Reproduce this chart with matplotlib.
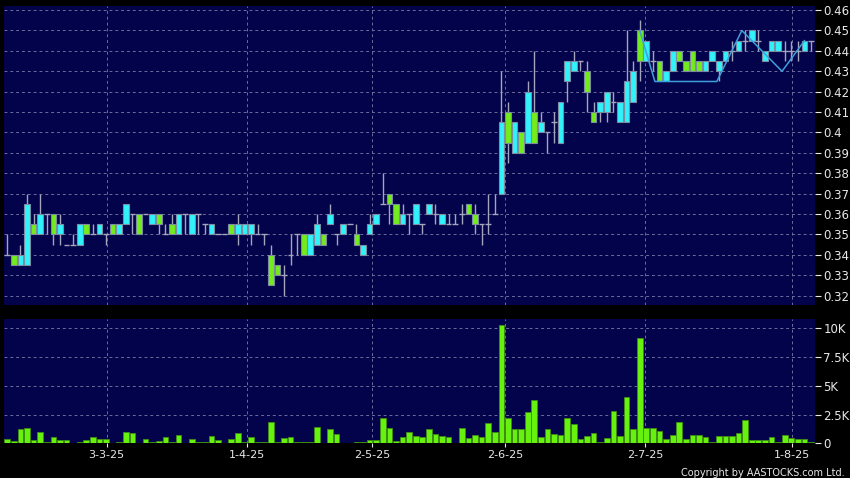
import matplotlib
matplotlib.use("Agg")
import matplotlib.pyplot as plt
from matplotlib.ticker import FuncFormatter

# daily candles, 10-Feb-25 .. 7-Aug-25
opens = [
    0.34, 0.34, 0.335, 0.335, 0.355, 0.35, 0.36, 0.36, 0.35, 0.345,
    0.345, 0.345, 0.355, 0.35, 0.35, 0.35, 0.355, 0.35, 0.355, 0.36,
    0.36, 0.36, 0.355, 0.36, 0.35, 0.355, 0.35, 0.36, 0.35, 0.36,
    0.355, 0.35, 0.35, 0.35, 0.355, 0.35, 0.35, 0.35, 0.35, 0.35,
    0.34, 0.335, 0.33, 0.34, 0.35, 0.35, 0.34, 0.345, 0.35, 0.355,
    0.35, 0.35, 0.355, 0.35, 0.34, 0.35, 0.355, 0.365, 0.37, 0.365,
    0.355, 0.36, 0.355, 0.355, 0.36, 0.36, 0.355, 0.355, 0.355, 0.36,
    0.365, 0.36, 0.355, 0.355, 0.36, 0.37, 0.41, 0.39, 0.40, 0.395,
    0.41, 0.40, 0.40, 0.405, 0.395, 0.425, 0.43, 0.435, 0.43, 0.41,
    0.41, 0.41, 0.415, 0.405, 0.405, 0.415, 0.45, 0.435, 0.435, 0.435,
    0.425, 0.43, 0.44, 0.435, 0.44, 0.435, 0.43, 0.435, 0.43, 0.435,
    0.44, 0.44, 0.445, 0.445, 0.445, 0.435, 0.44, 0.44, 0.44, 0.44,
    0.44, 0.44, 0.445,
]
highs = [
    0.35, 0.34, 0.345, 0.37, 0.36, 0.37, 0.36, 0.36, 0.36, 0.345,
    0.35, 0.355, 0.355, 0.355, 0.355, 0.35, 0.355, 0.355, 0.365, 0.36,
    0.36, 0.36, 0.36, 0.36, 0.355, 0.36, 0.36, 0.36, 0.36, 0.36,
    0.355, 0.355, 0.35, 0.35, 0.355, 0.36, 0.355, 0.355, 0.355, 0.35,
    0.345, 0.335, 0.335, 0.35, 0.35, 0.35, 0.35, 0.36, 0.35, 0.365,
    0.35, 0.355, 0.355, 0.355, 0.345, 0.36, 0.36, 0.38, 0.37, 0.365,
    0.365, 0.36, 0.365, 0.355, 0.365, 0.365, 0.36, 0.36, 0.36, 0.365,
    0.365, 0.365, 0.355, 0.37, 0.37, 0.43, 0.415, 0.405, 0.40, 0.425,
    0.44, 0.41, 0.40, 0.41, 0.415, 0.435, 0.44, 0.435, 0.435, 0.415,
    0.415, 0.42, 0.42, 0.415, 0.45, 0.435, 0.455, 0.445, 0.44, 0.435,
    0.43, 0.44, 0.44, 0.435, 0.44, 0.435, 0.435, 0.44, 0.435, 0.44,
    0.445, 0.445, 0.45, 0.45, 0.45, 0.44, 0.445, 0.445, 0.445, 0.445,
    0.445, 0.445, 0.445,
]
lows = [
    0.34, 0.335, 0.335, 0.335, 0.35, 0.35, 0.35, 0.345, 0.345, 0.345,
    0.345, 0.345, 0.35, 0.35, 0.35, 0.345, 0.35, 0.35, 0.355, 0.35,
    0.35, 0.36, 0.355, 0.35, 0.35, 0.35, 0.35, 0.35, 0.35, 0.35,
    0.35, 0.35, 0.35, 0.35, 0.35, 0.345, 0.35, 0.345, 0.35, 0.345,
    0.325, 0.33, 0.32, 0.335, 0.34, 0.34, 0.34, 0.345, 0.345, 0.355,
    0.345, 0.35, 0.355, 0.345, 0.34, 0.35, 0.355, 0.365, 0.355, 0.355,
    0.355, 0.35, 0.355, 0.35, 0.36, 0.355, 0.355, 0.355, 0.355, 0.355,
    0.36, 0.35, 0.345, 0.35, 0.36, 0.37, 0.385, 0.39, 0.39, 0.395,
    0.395, 0.40, 0.39, 0.395, 0.395, 0.415, 0.43, 0.43, 0.41, 0.405,
    0.405, 0.405, 0.41, 0.405, 0.405, 0.415, 0.425, 0.435, 0.43, 0.425,
    0.425, 0.43, 0.435, 0.43, 0.43, 0.43, 0.43, 0.435, 0.425, 0.435,
    0.435, 0.44, 0.44, 0.445, 0.44, 0.435, 0.44, 0.44, 0.435, 0.435,
    0.435, 0.44, 0.44,
]
closes = [
    0.34, 0.335, 0.34, 0.365, 0.35, 0.36, 0.36, 0.35, 0.355, 0.345,
    0.345, 0.355, 0.35, 0.35, 0.355, 0.35, 0.35, 0.355, 0.365, 0.36,
    0.35, 0.36, 0.36, 0.355, 0.35, 0.35, 0.36, 0.36, 0.36, 0.36,
    0.355, 0.355, 0.35, 0.35, 0.35, 0.355, 0.355, 0.355, 0.35, 0.35,
    0.325, 0.33, 0.33, 0.34, 0.35, 0.34, 0.35, 0.355, 0.345, 0.36,
    0.35, 0.355, 0.355, 0.345, 0.345, 0.355, 0.36, 0.365, 0.365, 0.355,
    0.36, 0.36, 0.365, 0.355, 0.365, 0.36, 0.36, 0.355, 0.355, 0.36,
    0.36, 0.355, 0.355, 0.355, 0.36, 0.405, 0.395, 0.405, 0.39, 0.42,
    0.395, 0.405, 0.40, 0.405, 0.415, 0.435, 0.435, 0.435, 0.42, 0.405,
    0.415, 0.42, 0.415, 0.415, 0.425, 0.43, 0.435, 0.445, 0.435, 0.425,
    0.43, 0.44, 0.435, 0.43, 0.43, 0.43, 0.435, 0.44, 0.435, 0.44,
    0.44, 0.445, 0.445, 0.45, 0.445, 0.44, 0.445, 0.445, 0.44, 0.44,
    0.44, 0.445, 0.445,
]
# volume in thousands of shares
volumes = [
    0.43, 0.2, 1.25, 1.36, 0.29, 0.96, 0.15, 0.6, 0.29, 0.29,
    0.05, 0.1, 0.29, 0.58, 0.35, 0.35, 0.03, 0.1, 0.96, 0.87,
    0.05, 0.35, 0.12, 0.23, 0.52, 0.17, 0.7, 0.05, 0.38, 0.12,
    0.17, 0.64, 0.29, 0.03, 0.41, 0.87, 0.12, 0.58, 0.12, 0.12,
    1.83, 0.12, 0.46, 0.6, 0.12, 0.09, 0.09, 1.39, 0.03, 1.22,
    0.84, 0.06, 0.03, 0.15, 0.17, 0.26, 0.29, 2.17, 1.33, 0.2,
    0.55, 0.99, 0.64, 0.58, 1.25, 0.81, 0.64, 0.52, 0.06, 1.33,
    0.49, 0.78, 0.55, 1.77, 0.96, 10.26, 2.17, 1.22, 1.3, 2.72,
    3.77, 0.52, 1.22, 0.84, 0.7, 2.23, 1.65, 0.43, 0.67, 0.93,
    0.12, 0.49, 2.78, 0.67, 4.0, 1.28, 9.13, 1.36, 1.36, 1.1,
    0.43, 0.72, 1.83, 0.43, 0.78, 0.78, 0.55, 0.12, 0.64, 0.64,
    0.64, 0.87, 2.0, 0.29, 0.29, 0.29, 0.55, 0.17, 0.7, 0.46,
    0.38, 0.35, 0.17,
]

# swing line drawn over the last part of the price panel
swing_x = [96, 98.3, 107.7, 111.5, 117.6, 121]
swing_y = [0.45, 0.425, 0.425, 0.45, 0.43, 0.445]

date_pos = [15.1, 36.35, 55.4, 75.55, 96.8, 119.1]
date_labels = ["3-3-25", "1-4-25", "2-5-25", "2-6-25", "2-7-25", "1-8-25"]

price_ticks = [0.32, 0.33, 0.34, 0.35, 0.36, 0.37, 0.38, 0.39, 0.40,
               0.41, 0.42, 0.43, 0.44, 0.45, 0.46]
vol_ticks = [0, 2.5, 5, 7.5, 10]
vol_labels = ["0", "2.5K", "5K", "7.5K", "10K"]

bg = "#03034b"
grid_c = "#6c6c9c"
wick_c = "#a4a4bc"
up_c = "#2ff2fa"
down_c = "#72ec1a"
text_c = "#e8e8e8"

fig = plt.figure(figsize=(8.5, 4.78), dpi=100, facecolor="black")
ax = fig.add_axes([0.0047, 0.3619, 0.9541, 0.6255])
axv = fig.add_axes([0.0047, 0.0722, 0.9541, 0.2605])

n = len(closes)
xs = list(range(n))
w = 0.86

for a in (ax, axv):
    a.set_facecolor(bg)
    for s in a.spines.values():
        s.set_visible(False)
    a.set_xlim(-0.49, 122.6)
    for p in date_pos:
        a.axvline(p, color=grid_c, lw=0.7, ls=(0, (3, 3)), zorder=1)
    a.yaxis.tick_right()
    a.tick_params(axis="y", colors=text_c, labelsize=8.5, length=4,
                  width=0.8, pad=2)

# price panel
for v in price_ticks:
    ax.axhline(v, color=grid_c, lw=0.7, ls=(0, (3, 3)), zorder=1)

ax.vlines(xs, lows, highs, color=wick_c, lw=1, zorder=2)
for i in xs:
    o, c = opens[i], closes[i]
    if abs(c - o) < 1e-9:
        ax.hlines(o, i - w / 2, i + w / 2, color=wick_c, lw=1, zorder=3)
    else:
        ax.bar(i, abs(c - o), bottom=min(o, c), width=w,
               color=up_c if c > o else down_c,
               edgecolor="#7d8ca0", lw=0.8, zorder=3)

ax.plot(swing_x, swing_y, color="#3e9fdc", lw=1.1, zorder=4)

ax.set_ylim(0.3154, 0.4620)
ax.set_yticks(price_ticks)
ax.yaxis.set_major_formatter(FuncFormatter(lambda v, p: "%g" % round(v, 2)))
ax.set_xticks([])

# volume panel
for v in vol_ticks[1:]:
    axv.axhline(v, color=grid_c, lw=0.7, ls=(0, (3, 3)), zorder=1)
axv.bar(xs, volumes, width=w, color="#66f20e", edgecolor="#3f8f12",
        lw=0.6, zorder=3)
axv.set_ylim(0, 10.81)
axv.set_yticks(vol_ticks)
axv.set_yticklabels(vol_labels)
axv.set_xticks(date_pos)
axv.set_xticklabels(date_labels)
axv.tick_params(axis="x", colors=text_c, labelsize=8, length=3,
                width=0.8, pad=2)

fig.text(0.994, 0.0, "Copyright by AASTOCKS.com Ltd.", color=text_c,
         fontsize=7, ha="right", va="bottom")

fig.savefig("out.png", dpi=100, facecolor="black")
